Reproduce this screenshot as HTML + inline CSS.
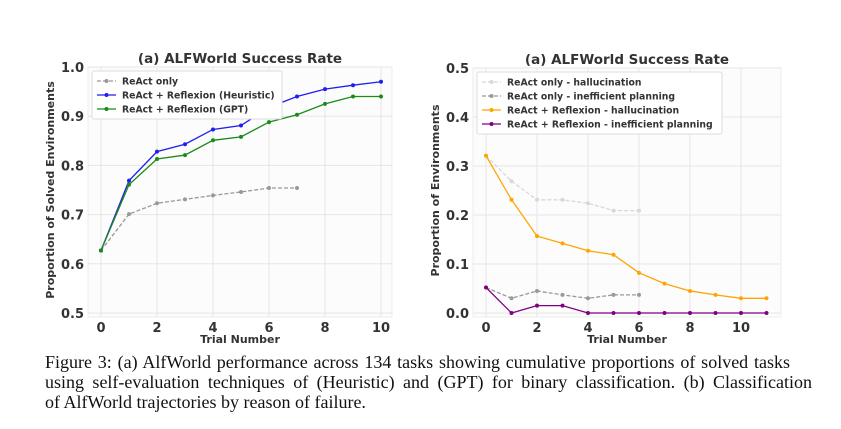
<!DOCTYPE html>
<html><head><meta charset="utf-8"><style>
body{margin:0;background:#fff;width:841px;height:429px;overflow:hidden;position:relative;font-family:"DejaVu Sans",sans-serif}
svg{position:absolute;left:0;top:0}
.cap{position:absolute;left:45px;top:352px;font-family:"Liberation Serif",serif;font-size:18px;line-height:20px;color:#111}
.cap span{display:block;white-space:nowrap;text-align:justify;text-align-last:justify}
</style></head><body>
<svg id="chart" width="841" height="345"></svg>
<div class="cap"><span style="width:745px">Figure 3: (a) AlfWorld performance across 134 tasks showing cumulative proportions of solved tasks</span><span style="width:767px">using self-evaluation techniques of (Heuristic) and (GPT) for binary classification. (b) Classification</span><span style="text-align-last:left">of AlfWorld trajectories by reason of failure.</span></div>
<script>
const leftTicksY=[0.5,0.6,0.7,0.8,0.9,1.0];
const leftTicksX=[0,2,4,6,8,10];
const reactOnly=[0.627,0.701,0.723,0.731,0.739,0.746,0.754,0.754];
const heuristic=[0.627,0.769,0.828,0.843,0.873,0.881,0.918,0.940,0.955,0.963,0.970];
const gpt=[0.627,0.761,0.813,0.821,0.851,0.858,0.888,0.903,0.925,0.940,0.940];
const rightTicksY=[0.0,0.1,0.2,0.3,0.4,0.5];
const rightTicksX=[0,2,4,6,8,10];
const reactHalluc=[0.321,0.269,0.231,0.231,0.224,0.209,0.209];
const reactIneff=[0.052,0.030,0.045,0.037,0.030,0.037,0.037];
const reflHalluc=[0.321,0.231,0.157,0.142,0.127,0.119,0.082,0.060,0.045,0.037,0.030,0.030];
const reflIneff=[0.052,0,0.015,0.015,0,0,0,0,0,0,0,0];

const svg=document.getElementById('chart');
const NS='http://www.w3.org/2000/svg';
function mk(tag,a,parent){const e=document.createElementNS(NS,tag);for(const k in a)e.setAttribute(k,a[k]);(parent||svg).appendChild(e);return e;}
function txt(s,a){const e=mk('text',a);e.textContent=s;return e;}

function panel(cfg){
  const {x0,x1,y0,y1,fx,ymin,ymax,yt,xt,title,ylab,series,legW,name}=cfg;
  const X=v=>fx(v), Y=v=>y0+(ymax-v)/(ymax-ymin)*(y1-y0);
  const g=mk('g',{});
  
  
  mk('rect',{x:x0,y:y0,width:x1-x0,height:y1-y0+4,fill:'#fcfcfc',stroke:'#ececec'},g);
  yt.forEach(v=>{mk('line',{x1:x0,x2:x1,y1:Y(v),y2:Y(v),stroke:'#e6e6e6','stroke-width':1},g);
    const t=txt(v.toFixed(1),{x:x0-4,y:Y(v)+5,'text-anchor':'end','font-size':13,'font-weight':'bold',fill:'#333'});
    });
  xt.forEach(v=>{mk('line',{x1:X(v),x2:X(v),y1:y0,y2:y1+4,stroke:'#e6e6e6','stroke-width':1},g);
    const t=txt(String(v),{x:X(v),y:y1+19,'text-anchor':'middle','font-size':13,'font-weight':'bold',fill:'#333'});
    });
  const tt=txt(title,{x:(x0+x1)/2,y:y0-4,'text-anchor':'middle','font-size':13.5,'font-weight':'bold',fill:'#333'});
  
  const xl=txt('Trial Number',{x:(x0+x1)/2,y:y1+30,'text-anchor':'middle','font-size':11,'font-weight':'bold',fill:'#333'});
  
  const yl=txt(ylab,{x:0,y:0,'text-anchor':'middle','font-size':11,'font-weight':'bold',fill:'#333',transform:`translate(${x0-34},${(y0+y1)/2}) rotate(-90)`});
  
  series.forEach(s=>{
    const pts=s.data.map((v,i)=>X(i)+','+Y(v)).join(' ');
    const pl=mk('polyline',{points:pts,fill:'none',stroke:s.color,'stroke-width':1.3,'stroke-dasharray':s.dash||''},g);
    
    s.data.forEach((v,i)=>{const c=mk('circle',{cx:X(i),cy:Y(v),r:2,fill:s.color},g);
      });
  });
  const lg=mk('g',{},g);
  
  const lx=x0+4, ly=y0+4;
  mk('rect',{x:lx,y:ly,width:legW,height:series.length*14+6,fill:'#fff',stroke:'#ddd',rx:2},lg);
  series.forEach((s,i)=>{const yy=ly+10+i*14;
    const le=mk('g',{},lg);
    
    mk('line',{x1:lx+5,x2:lx+24,y1:yy,y2:yy,stroke:s.color,'stroke-width':1.3,'stroke-dasharray':s.dash||''},le);
    mk('circle',{cx:lx+14.5,cy:yy,r:2,fill:s.color},le);
    const t=mk('text',{x:lx+30,y:yy+3.5,'font-size':9.3,'font-weight':'bold',fill:'#333'},le);t.textContent=s.label;});
}

panel({name:'left-chart',x0:88,x1:392,y0:67,y1:313,fx:v=>101+v*28,ymin:0.5,ymax:1.0,yt:leftTicksY,xt:leftTicksX,
  title:'(a) ALFWorld Success Rate',ylab:'Proportion of Solved Environments',legW:190,
  series:[{name:'react-only',label:'ReAct only',data:reactOnly,color:'#999',dash:'4,2'},
          {name:'heuristic',label:'ReAct + Reflexion (Heuristic)',data:heuristic,color:'#1f1fef'},
          {name:'gpt',label:'ReAct + Reflexion (GPT)',data:gpt,color:'#1a8a1a'}]});
panel({name:'right-chart',x0:473,x1:781,y0:68,y1:313,fx:v=>486+v*25.5,ymin:0,ymax:0.5,yt:rightTicksY,xt:rightTicksX,
  title:'(a) ALFWorld Success Rate',ylab:'Proportion of Environments',legW:245,
  series:[{name:'react-hallucination',label:'ReAct only - hallucination',data:reactHalluc,color:'#d8d8d8',dash:'4,2'},
          {name:'react-inefficient',label:'ReAct only - inefficient planning',data:reactIneff,color:'#999',dash:'4,2'},
          {name:'reflexion-hallucination',label:'ReAct + Reflexion - hallucination',data:reflHalluc,color:'#ffa500'},
          {name:'reflexion-inefficient',label:'ReAct + Reflexion - inefficient planning',data:reflIneff,color:'#800080'}]});
</script>
</body></html>
